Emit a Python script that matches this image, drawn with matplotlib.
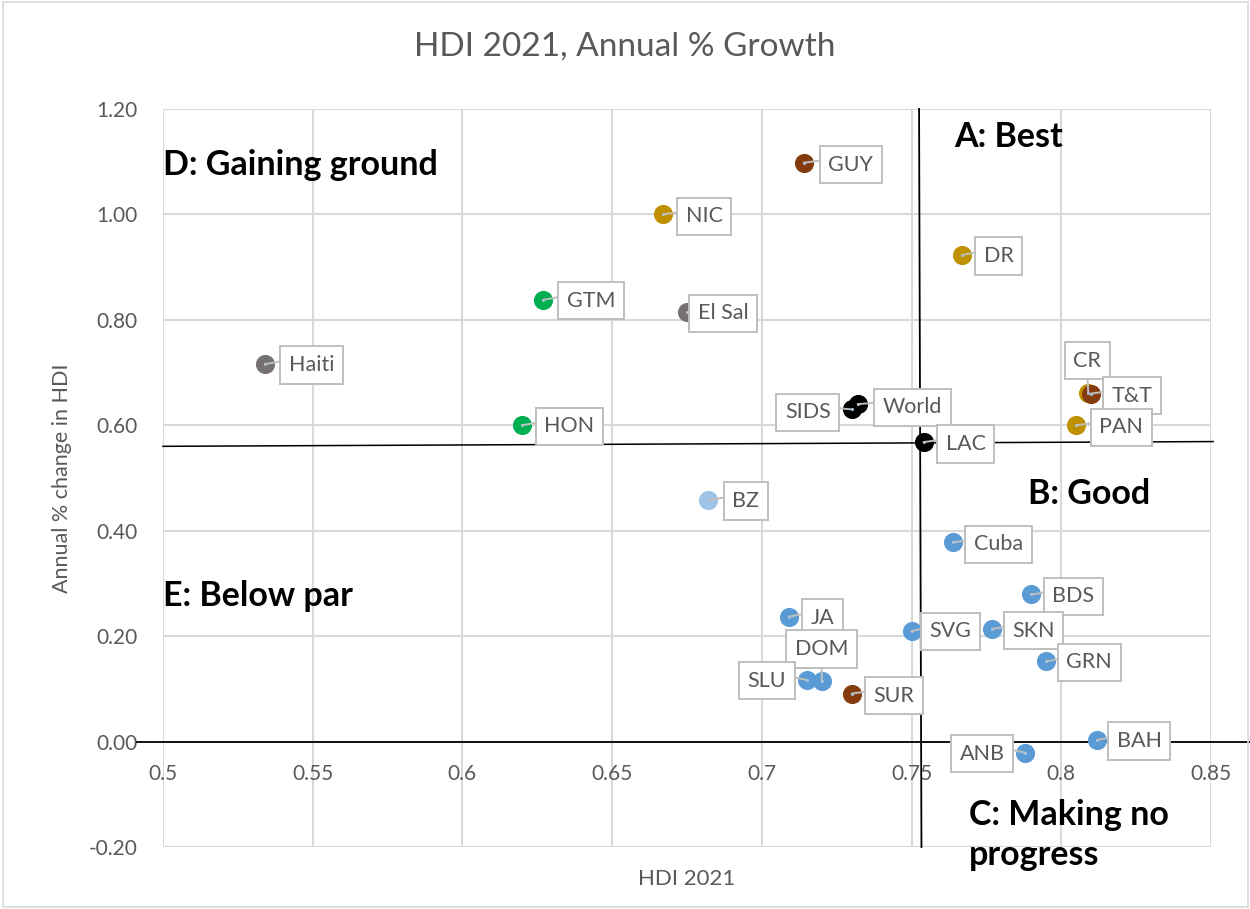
import numpy as np
import matplotlib
matplotlib.use("Agg")
import matplotlib.pyplot as plt

plt.rcParams['font.family'] = ['Lato', 'DejaVu Sans']

# HDI 2021 vs annual % change
countries = ["Haiti", "HON", "GTM", "NIC", "El Sal", "GUY", "BZ", "JA", "DOM", "SLU",
             "SUR", "SVG", "SIDS", "World", "LAC", "DR", "Cuba", "CR", "T&T", "PAN",
             "BDS", "SKN", "GRN", "BAH", "ANB"]
hdi = [0.534, 0.620, 0.627, 0.667, 0.675, 0.714, 0.682, 0.709, 0.720, 0.715,
       0.730, 0.750, 0.730, 0.732, 0.754, 0.767, 0.764, 0.809, 0.810, 0.805,
       0.790, 0.777, 0.795, 0.812, 0.788]
growth = [0.716, 0.600, 0.838, 1.000, 0.814, 1.098, 0.458, 0.237, 0.115, 0.117,
          0.091, 0.209, 0.630, 0.640, 0.568, 0.923, 0.378, 0.662, 0.660, 0.600,
          0.279, 0.214, 0.152, 0.003, -0.021]
groups = ["gray", "green", "green", "gold", "gray", "brown", "lightblue", "blue", "blue", "blue",
          "brown", "blue", "black", "black", "black", "gold", "blue", "gold", "brown", "gold",
          "blue", "blue", "blue", "blue", "blue"]

colors = {"gray": "#767171", "green": "#00B050", "gold": "#BF9000", "brown": "#843C0C",
          "black": "#000000", "lightblue": "#9DC3E6", "blue": "#5B9BD5"}

# label offsets in pixels (dx, dy)
offsets = {"Haiti": (47, -1), "HON": (47, -1), "GTM": (48, -1), "NIC": (41, -2),
           "El Sal": (36, -1), "GUY": (47, -2), "BZ": (38, -1), "JA": (34, -1),
           "DOM": (0, 32), "SLU": (-40, -1), "SUR": (42, -2), "SVG": (39, 0),
           "SIDS": (-44, -3), "World": (55, -3), "LAC": (42, -2), "DR": (36, -1),
           "Cuba": (45, -2), "CR": (-1, 32), "T&T": (41, -2), "PAN": (45, -2),
           "BDS": (42, -2), "SKN": (41, -2), "GRN": (43, -1), "BAH": (42, -1),
           "ANB": (-43, -1)}

fig = plt.figure(figsize=(12.5, 9.09), dpi=100)
ax = fig.add_axes([0.1304, 0.0682, 0.8384, 0.8120])

grid_c = "#D9D9D9"
text_c = "#595959"

for i, name in enumerate(countries):
    ax.scatter(hdi[i], growth[i], s=190, color=colors[groups[i]], zorder=4, linewidths=0)

for i, name in enumerate(countries):
    dx, dy = offsets[name]
    if dy > 20:
        rel = (0.5, 0.0)
    elif dx > 0:
        rel = (0.0, 0.75)
    else:
        rel = (1.0, 0.75)
    ax.annotate(name, (hdi[i], growth[i]), xytext=(dx, dy), textcoords='offset pixels',
                ha='center', va='center', fontsize=15.5, color=text_c, zorder=6,
                bbox=dict(boxstyle='square,pad=0.4', fc='white', ec='#BFBFBF', lw=1.4),
                arrowprops=dict(arrowstyle='-', color='#BFBFBF', lw=1.4, relpos=rel,
                                shrinkA=0, shrinkB=0))
ax.scatter(hdi, growth, s=5, color="#9DC3E6", zorder=5, linewidths=0)

ax.set_xlim(0.5, 0.85)
ax.set_ylim(-0.2, 1.2)
ax.set_xticks(np.arange(0.5, 0.851, 0.05))
ax.set_xticklabels(["0.5", "0.55", "0.6", "0.65", "0.7", "0.75", "0.8", "0.85"])
ax.set_yticks(np.arange(-0.2, 1.21, 0.2))
ax.set_yticklabels([f"{v:.2f}" for v in np.arange(-0.2, 1.21, 0.2)])
ax.grid(True, color=grid_c, lw=1.5, zorder=0)
for s in ax.spines.values():
    s.set_visible(False)
ax.spines['bottom'].set_position(('data', 0))
ax.tick_params(axis='x', length=0, pad=16, labelsize=15, labelcolor=text_c)
ax.tick_params(axis='y', length=0, pad=18, labelsize=15, labelcolor=text_c)

# axis line at zero and quadrant dividers
ax.axhline(0, xmin=-0.025, xmax=1.05, color='black', lw=1.3, clip_on=False, zorder=3)
ax.plot([0.7525, 0.7533], [1.2, -0.2], color='black', lw=1.3, clip_on=False, zorder=3)
ax.plot([0.5, 0.8507], [0.560, 0.569], color='black', lw=1.1, clip_on=False, zorder=3)

ax.set_xlabel("HDI 2021", fontsize=16, color=text_c)
ax.xaxis.set_label_coords(0.5, -0.03)
ax.set_ylabel("Annual % change in HDI", fontsize=15.5, color=text_c, labelpad=12)
fig.suptitle("HDI 2021, Annual % Growth", fontsize=24, color=text_c, y=0.965)

quad = dict(fontsize=24.5, fontweight='bold', color='black', va='center', ha='left',
            clip_on=False, zorder=7)
ax.text(0.5, 1.093, "D: Gaining ground", **quad)
ax.text(0.7643, 1.146, "A: Best", **quad)
ax.text(0.789, 0.469, "B: Good", **quad)
ax.text(0.5, 0.277, "E: Below par", **quad)
ax.text(0.7693, -0.177, "C: Making no\nprogress", linespacing=1.3, **quad)

fig.patches.append(plt.Rectangle((0.002, 0.002), 0.996, 0.996, transform=fig.transFigure,
                                 fill=False, ec='#D9D9D9', lw=1.2))

fig.savefig("out.png", dpi=100)
